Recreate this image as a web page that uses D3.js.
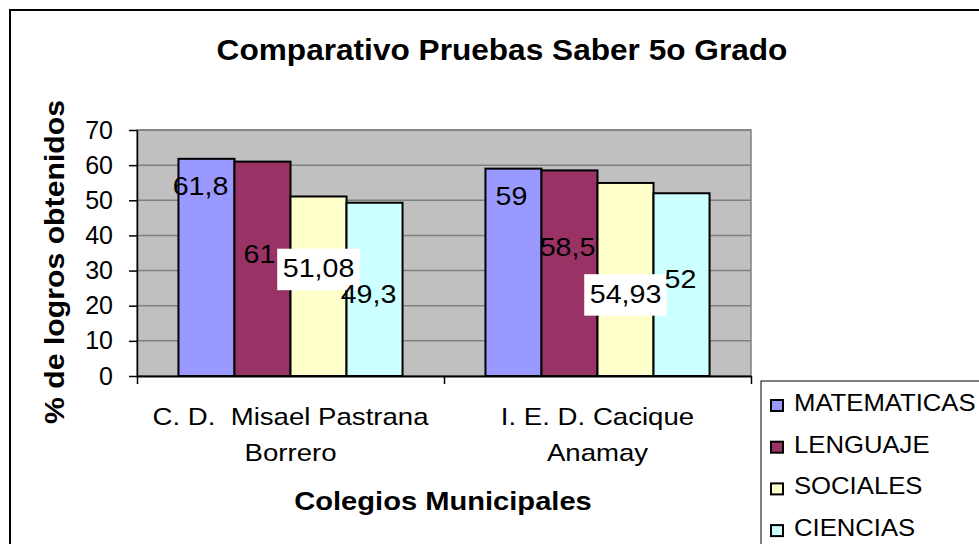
<!DOCTYPE html>
<html>
<head>
<meta charset="utf-8">
<script src="https://cdn.jsdelivr.net/npm/d3@7"></script>
<style>
  body { margin: 0; background: #fff; }
  svg { display: block; }
  text { font-family: "Liberation Sans", Arial, sans-serif; fill: #000; }
</style>
</head>
<body>
<svg id="grafico"></svg>
<script>
// dados
let colegios = [['C. D.  Misael Pastrana', 'Borrero'], ['I. E. D. Cacique', 'Anamay']];
let materias = ['MATEMATICAS', 'LENGUAJE', 'SOCIALES', 'CIENCIAS'];
let matematicas = [61.8, 59];
let lenguaje = [61, 58.5];
let sociales = [51.08, 54.93];
let ciencias = [49.3, 52];
let ticksY = [0, 10, 20, 30, 40, 50, 60, 70];

let series = [matematicas, lenguaje, sociales, ciencias];
let cores = ['#9999FF', '#993366', '#FFFFCC', '#CCFFFF'];

// deslocamento dos rótulos (dx do centro da barra, dy do topo da barra), como no Excel
let deslocRotulos = [
  [[-6, 36], [-2, 36]],
  [[-3, 101], [-2, 86]],
  [[0, 81], [0, 120]],
  [[-6, 100], [-1, 95]]
];

// a fonte do original é um pouco mais larga: estica o texto no eixo x
function posTexto(x, y, sx) {
  return 'translate(' + x + ',' + y + ') scale(' + sx + ',1)';
}

let largura = 979, altura = 544;
let svg = d3.select('#grafico')
  .attr('width', largura)
  .attr('height', altura);

// borda externa do gráfico
svg.append('rect')
  .attr('x', 10).attr('y', 10)
  .attr('width', 1100).attr('height', 700)
  .attr('fill', 'none')
  .attr('stroke', '#000')
  .attr('stroke-width', 2);

let esq = 137, dir = 751, topo = 130, base = 376;

let fnX0 = d3.scaleBand()
  .domain(d3.range(colegios.length))
  .range([esq, dir]);

let fnX1 = d3.scaleBand()
  .domain(d3.range(materias.length))
  .range([0, fnX0.bandwidth()])
  .paddingInner(0)
  .paddingOuter(0.74);

let fnY = d3.scaleLinear()
  .domain([0, 70])
  .range([base, topo]);

// fundo cinza da área de plotagem
svg.append('rect')
  .attr('x', esq).attr('y', topo)
  .attr('width', dir - esq).attr('height', base - topo)
  .attr('fill', '#C0C0C0')
  .attr('stroke', '#808080')
  .attr('stroke-width', 1.5);

// linhas de grade
svg.selectAll('.grade')
  .data(ticksY.slice(1))
  .enter()
  .append('line')
  .classed('grade', true)
  .attr('x1', esq).attr('x2', dir)
  .attr('y1', d => fnY(d)).attr('y2', d => fnY(d))
  .attr('stroke', '#808080')
  .attr('stroke-width', 1.5);

// barras
let grupos = svg.selectAll('.grupo')
  .data(colegios)
  .enter()
  .append('g')
  .classed('grupo', true)
  .attr('transform', (d, i) => 'translate(' + fnX0(i) + ',0)');

grupos.selectAll('.barra')
  .data((d, i) => series.map((s, j) => ({ serie: j, colegio: i, valor: s[i] })))
  .enter()
  .append('rect')
  .classed('barra', true)
  .attr('x', d => fnX1(d.serie))
  .attr('y', d => fnY(d.valor))
  .attr('width', fnX1.bandwidth())
  .attr('height', d => base - fnY(d.valor))
  .attr('fill', d => cores[d.serie])
  .attr('stroke', '#000')
  .attr('stroke-width', 2);

// eixo y
let eixoY = svg.append('g')
  .attr('transform', 'translate(' + esq + ',0)')
  .call(d3.axisLeft(fnY).tickValues(ticksY).tickSize(8).tickSizeOuter(0).tickPadding(16));
eixoY.select('.domain').attr('stroke', '#000').attr('stroke-width', 1.5);
eixoY.selectAll('.tick line').attr('stroke', '#000').attr('stroke-width', 1.5);
eixoY.selectAll('.tick text')
  .style('font-family', '"Liberation Sans", Arial, sans-serif')
  .style('font-size', '25px')
  .attr('fill', '#000');

// eixo x
let fnXEixo = d3.scaleLinear().domain([0, colegios.length]).range([esq, dir]);
let eixoX = svg.append('g')
  .attr('transform', 'translate(0,' + base + ')')
  .call(d3.axisBottom(fnXEixo).tickValues(d3.range(colegios.length + 1)).tickFormat('').tickSize(8).tickSizeOuter(0));
eixoX.select('.domain').attr('stroke', '#000').attr('stroke-width', 2);
eixoX.selectAll('.tick line').attr('stroke', '#000').attr('stroke-width', 1.5);

// rótulos dos valores
let rotulos = grupos.selectAll('.rotulo')
  .data((d, i) => series.map((s, j) => ({ serie: j, colegio: i, valor: s[i] })))
  .enter()
  .append('g')
  .classed('rotulo', true)
  .attr('transform', d => posTexto(
    fnX1(d.serie) + fnX1.bandwidth() / 2 + deslocRotulos[d.serie][d.colegio][0],
    fnY(d.valor) + deslocRotulos[d.serie][d.colegio][1], 1.1));

rotulos.append('text')
  .attr('text-anchor', 'middle')
  .style('font-size', '26px')
  .text(d => String(d.valor).replace('.', ','));

// fundo branco nos rótulos de SOCIALES
rotulos.filter(d => d.serie === 2).each(function () {
  let g = d3.select(this);
  let caixa = g.select('text').node().getBBox();
  g.insert('rect', 'text')
    .attr('x', caixa.x - 5)
    .attr('y', caixa.y - 5)
    .attr('width', caixa.width + 10)
    .attr('height', caixa.height + 12)
    .attr('fill', '#fff');
});

// nomes dos colégios
let nomes = svg.selectAll('.nome')
  .data(colegios)
  .enter()
  .append('text')
  .classed('nome', true)
  .attr('transform', (d, i) => posTexto(fnX0(i) + fnX0.bandwidth() / 2, 0, 1.15))
  .attr('text-anchor', 'middle')
  .attr('xml:space', 'preserve')
  .style('white-space', 'pre')
  .style('font-size', '24px');
nomes.selectAll('tspan')
  .data(d => d)
  .enter()
  .append('tspan')
  .attr('x', 0)
  .attr('y', (d, k) => 425 + k * 36)
  .text(d => d);

// títulos
svg.append('text')
  .attr('transform', posTexto(502, 60, 1.09))
  .attr('text-anchor', 'middle')
  .style('font-size', '29px')
  .style('font-weight', 'bold')
  .text('Comparativo Pruebas Saber 5o Grado');

svg.append('text')
  .attr('transform', posTexto(443, 510, 1.12))
  .attr('text-anchor', 'middle')
  .style('font-size', '26px')
  .style('font-weight', 'bold')
  .text('Colegios Municipales');

svg.append('text')
  .attr('transform', 'translate(64,262) rotate(-90) scale(1.12,1)')
  .attr('text-anchor', 'middle')
  .style('font-size', '27px')
  .style('font-weight', 'bold')
  .text('% de logros obtenidos');

// legenda
let legenda = svg.append('g');
legenda.append('rect')
  .attr('x', 761).attr('y', 381)
  .attr('width', 400).attr('height', 300)
  .attr('fill', '#fff')
  .attr('stroke', '#000')
  .attr('stroke-width', 1);

let itens = legenda.selectAll('.item')
  .data(materias)
  .enter()
  .append('g')
  .classed('item', true)
  .attr('transform', (d, i) => 'translate(0,' + (411 + i * 41.7) + ')');

itens.append('rect')
  .attr('x', 771).attr('y', -11)
  .attr('width', 12).attr('height', 11)
  .attr('fill', (d, i) => cores[i])
  .attr('stroke', '#000')
  .attr('stroke-width', 2);

itens.append('text')
  .attr('transform', posTexto(794, 0, 1.07))
  .style('font-size', '24px')
  .text(d => d);
</script>
</body>
</html>
